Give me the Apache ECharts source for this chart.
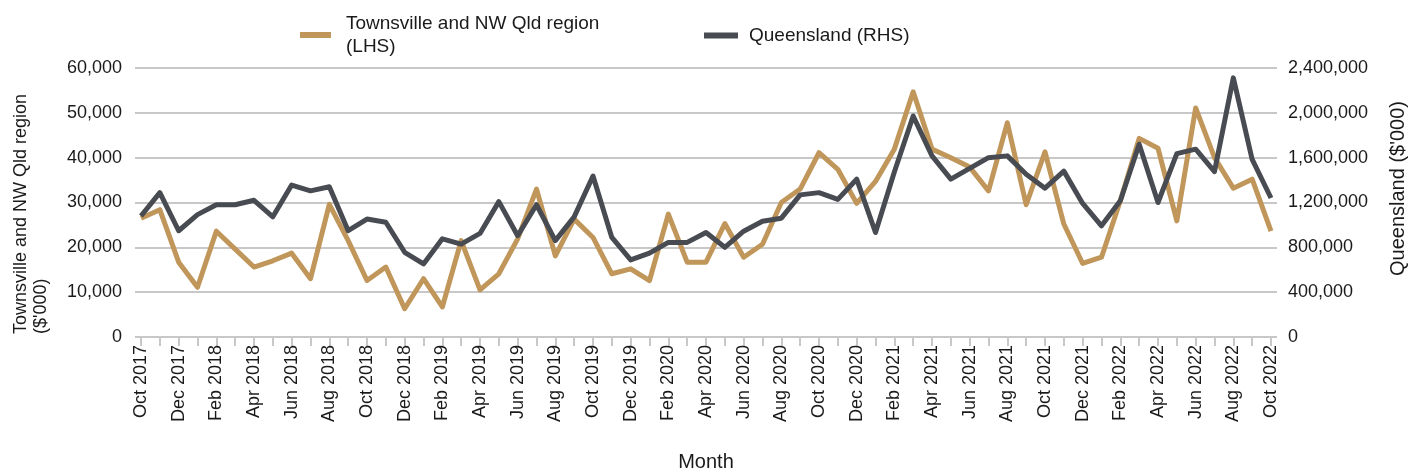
<!DOCTYPE html>
<html>
<head>
<meta charset="utf-8">
<script src="https://cdn.jsdelivr.net/npm/echarts@6/dist/echarts.min.js"></script>
<style>
  html, body { margin: 0; padding: 0; background: #fff; }
  #chart { width: 1410px; height: 470px; }
</style>
</head>
<body>
<div id="chart"></div>
<script>
// monthly categories, Oct 2017 - Oct 2022
const months = [
  'Oct 2017', 'Nov 2017', 'Dec 2017',
  'Jan 2018', 'Feb 2018', 'Mar 2018', 'Apr 2018', 'May 2018', 'Jun 2018',
  'Jul 2018', 'Aug 2018', 'Sep 2018', 'Oct 2018', 'Nov 2018', 'Dec 2018',
  'Jan 2019', 'Feb 2019', 'Mar 2019', 'Apr 2019', 'May 2019', 'Jun 2019',
  'Jul 2019', 'Aug 2019', 'Sep 2019', 'Oct 2019', 'Nov 2019', 'Dec 2019',
  'Jan 2020', 'Feb 2020', 'Mar 2020', 'Apr 2020', 'May 2020', 'Jun 2020',
  'Jul 2020', 'Aug 2020', 'Sep 2020', 'Oct 2020', 'Nov 2020', 'Dec 2020',
  'Jan 2021', 'Feb 2021', 'Mar 2021', 'Apr 2021', 'May 2021', 'Jun 2021',
  'Jul 2021', 'Aug 2021', 'Sep 2021', 'Oct 2021', 'Nov 2021', 'Dec 2021',
  'Jan 2022', 'Feb 2022', 'Mar 2022', 'Apr 2022', 'May 2022', 'Jun 2022',
  'Jul 2022', 'Aug 2022', 'Sep 2022', 'Oct 2022'
];

// Townsville and NW Qld region ($'000), left axis
const townsville = [
  26500, 28400, 16700,
  11100, 23600, 19600, 15600, 17000, 18700, 13000, 29600, 21500, 12600, 15600, 6300,
  13000, 6700, 21500, 10500, 14100, 21900, 33000, 18100, 26300, 22200, 14100, 15200,
  12600, 27400, 16700, 16700, 25300, 17800, 20700, 30000, 33000, 41100, 37400, 29800,
  34700, 41900, 54700, 41900, 40000, 37900, 32600, 47800, 29500, 41300, 25200, 16400,
  17800, 30400, 44300, 42100, 25900, 51100, 40000, 33200, 35200, 23600
];

// Queensland ($'000), right axis
const queensland = [
  1080000, 1288000, 948000,
  1092000, 1180000, 1180000, 1220000, 1072000, 1356000, 1304000, 1340000, 948000, 1052000, 1024000, 756000,
  652000, 876000, 828000, 924000, 1208000, 904000, 1180000, 860000, 1072000, 1436000, 888000, 688000,
  748000, 844000, 844000, 932000, 800000, 944000, 1032000, 1060000, 1268000, 1288000, 1228000, 1408000,
  932000, 1472000, 1972000, 1616000, 1408000, 1504000, 1600000, 1616000, 1452000, 1328000, 1480000, 1192000,
  992000, 1216000, 1720000, 1200000, 1636000, 1676000, 1476000, 2312000, 1584000, 1240000
];

const FONT = '"Liberation Sans", Arial, sans-serif';
const GOLD = '#C0965A';
const DARK = '#484C52';
const GRID = '#C8C8C8';
const TEXT = '#1a1a1a';

const fmt = v => v.toLocaleString('en-US');

const chart = echarts.init(document.getElementById('chart'));
chart.setOption({
  animation: false,
  textStyle: { fontFamily: FONT, color: TEXT },
  grid: { left: 141, right: 139, top: 68, bottom: 133, outerBoundsMode: 'none' },
  legend: [
    {
      left: 295, top: 7,
      icon: 'rect', itemWidth: 31, itemHeight: 6,
      data: ['Townsville and NW Qld region (LHS)'],
      formatter: () => 'Townsville and NW Qld region\n(LHS)',
      textStyle: { fontFamily: FONT, fontSize: 19, color: TEXT, lineHeight: 23, padding: [0, 0, 0, 10] }
    },
    {
      left: 699, top: 21,
      icon: 'rect', itemWidth: 34, itemHeight: 6,
      data: ['Queensland (RHS)'],
      textStyle: { fontFamily: FONT, fontSize: 19, color: TEXT, padding: [0, 0, 0, 6] }
    }
  ],
  xAxis: {
    type: 'category',
    data: months,
    boundaryGap: false,
    name: 'Month',
    nameLocation: 'middle',
    nameGap: 115,
    nameTextStyle: { fontSize: 20, color: TEXT },
    axisLine: { lineStyle: { color: GRID, width: 2 } },
    axisTick: { show: true, interval: 0, length: 9, lineStyle: { color: GRID, width: 2 } },
    axisLabel: { interval: 1, rotate: 90, fontSize: 18, color: TEXT, margin: 8 }
  },
  yAxis: [
    {
      type: 'value',
      min: 0, max: 60000, interval: 10000,
      name: "{a|Townsville and NW Qld region}\n{a|($'000)}",
      nameLocation: 'middle',
      nameRotate: 90,
      nameGap: 90,
      nameTextStyle: {
        padding: [0, 23, 0, 0],
        rich: { a: { fontFamily: FONT, fontSize: 18, color: TEXT, align: 'left', lineHeight: 20 } }
      },
      axisLine: { show: false },
      axisTick: { show: true, length: 6, lineStyle: { color: GRID, width: 2 } },
      splitLine: { lineStyle: { color: GRID, width: 2 } },
      axisLabel: { fontSize: 18, color: TEXT, margin: 19, formatter: fmt }
    },
    {
      type: 'value',
      min: 0, max: 2400000, interval: 400000,
      name: "Queensland ($'000)",
      nameLocation: 'middle',
      nameRotate: 90,
      nameGap: 117,
      nameTextStyle: { fontSize: 20, color: TEXT, padding: [0, 0, 0, 28] },
      axisLine: { show: false },
      axisTick: { show: true, length: 6, lineStyle: { color: GRID, width: 2 } },
      splitLine: { show: false },
      axisLabel: { fontSize: 18, color: TEXT, margin: 17, formatter: fmt }
    }
  ],
  series: [
    {
      name: 'Townsville and NW Qld region (LHS)',
      type: 'line',
      yAxisIndex: 0,
      data: townsville,
      symbol: 'none',
      lineStyle: { color: GOLD, width: 5, join: 'round' },
      itemStyle: { color: GOLD }
    },
    {
      name: 'Queensland (RHS)',
      type: 'line',
      yAxisIndex: 1,
      data: queensland,
      symbol: 'none',
      lineStyle: { color: DARK, width: 5, join: 'round' },
      itemStyle: { color: DARK }
    }
  ]
});
</script>
</body>
</html>
